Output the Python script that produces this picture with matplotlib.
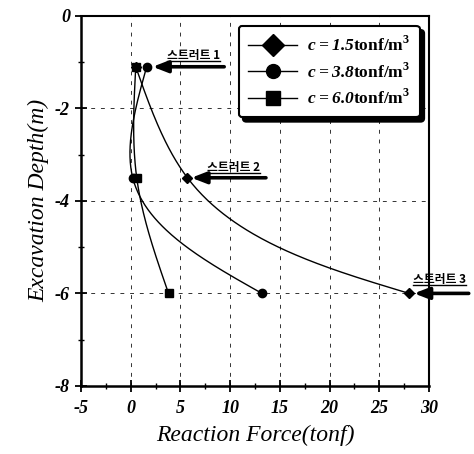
import numpy as np
import matplotlib.pyplot as plt
from matplotlib.lines import Line2D

# Strut depths and reaction forces per cohesion
depth = [-1.1, -3.5, -6.0]
force_c15 = [0.5, 5.7, 28.0]
force_c38 = [1.6, 0.2, 13.2]
force_c60 = [0.5, 0.6, 3.8]
series_labels = ['1.5', '3.8', '6.0']
series_markers = ['D', 'o', 's']
strut_labels = ['스트러트 1', '스트러트 2', '스트러트 3']
x_ticks = [-5, 0, 5, 10, 15, 20, 25, 30]
y_ticks = [0, -2, -4, -6, -8]


def natural_spline(t, v, tt):
    # natural cubic spline of v(t), evaluated at tt
    n = len(t)
    h = np.diff(t)
    A = np.zeros((n, n))
    b = np.zeros(n)
    A[0, 0] = A[-1, -1] = 1
    for i in range(1, n - 1):
        A[i, i - 1] = h[i - 1]
        A[i, i] = 2 * (h[i - 1] + h[i])
        A[i, i + 1] = h[i]
        b[i] = 6 * ((v[i + 1] - v[i]) / h[i] - (v[i] - v[i - 1]) / h[i - 1])
    M = np.linalg.solve(A, b)
    out = np.empty_like(tt)
    for k, x in enumerate(tt):
        i = min(np.searchsorted(t, x, side='right') - 1, n - 2)
        a, c = t[i + 1] - x, x - t[i]
        out[k] = (M[i] * a**3 + M[i + 1] * c**3) / (6 * h[i]) \
            + (v[i] / h[i] - M[i] * h[i] / 6) * a \
            + (v[i + 1] / h[i] - M[i + 1] * h[i] / 6) * c
    return out


def smooth(xs, ys, sx, sy, n=200):
    # parametric spline with chord-length parameter measured on screen
    px = np.asarray(xs, float) * sx
    py = np.asarray(ys, float) * sy
    t = np.concatenate([[0], np.cumsum(np.hypot(np.diff(px), np.diff(py)))])
    tt = np.linspace(0, t[-1], n)
    return natural_spline(t, px, tt) / sx, natural_spline(t, py, tt) / sy


serif = 'Liberation Serif'
plt.rcParams['mathtext.fontset'] = 'custom'
plt.rcParams['mathtext.bfit'] = 'Liberation Serif:italic:bold'
plt.rcParams['mathtext.rm'] = 'Liberation Serif:bold'

fig = plt.figure(figsize=(4.74, 4.54), dpi=100)
ax = fig.add_axes([0.171, 0.150, 0.734, 0.815])
ax.set_xlim(-5, 30)
ax.set_ylim(-8, 0)

# pixels per data unit
px_x = 348 / 35
px_y = 370 / 8

handles = []
for forces, lab, mk in zip([force_c15, force_c38, force_c60], series_labels, series_markers):
    cx, cy = smooth(forces, depth, px_x, px_y)
    ax.plot(cx, cy, color='black', lw=1.0, zorder=3)
    ax.plot(forces, depth, ls='none', marker=mk, ms=5 if mk == 'D' else 6,
            color='black', zorder=4)
    handles.append(Line2D([], [], color='black', lw=1.0, marker=mk,
                          ms=11 if mk == 'D' else 10,
                          label=r'$\mathbfit{c=' + lab + r'}$' + r'tonf/m$^{3}$'))

# arrows pointing at each strut
arrow_tips = [(2.2, -1.1), (6.1, -3.5), (28.5, -6.0)]
arrow_tails = [(9.4, -1.1), (13.6, -3.5), (34.0, -6.0)]
text_pos = [(3.65, -1.0), (7.7, -3.42), (28.4, -5.84)]
for tip, tail in zip(arrow_tips, arrow_tails):
    ax.annotate('', xy=tip, xytext=tail, annotation_clip=False,
                arrowprops=dict(arrowstyle='-|>,head_length=0.9,head_width=0.35',
                                lw=2.6, color='black', shrinkA=0, shrinkB=0),
                zorder=5)

strut_texts = []
for (tx, ty), lab in zip(text_pos, strut_labels):
    t = ax.text(tx, ty, lab, ha='left', va='bottom', fontsize=8.5,
                fontweight='bold', family=['Noto Sans CJK KR', 'DejaVu Sans'],
                clip_on=False, zorder=5)
    strut_texts.append(t)

ax.set_xticks(x_ticks)
ax.set_yticks(y_ticks)
ax.set_xticks(np.arange(-5, 30.1, 2.5), minor=True)
ax.set_yticks(np.arange(-8, 0.1, 1), minor=True)
ax.set_xticklabels([str(v) for v in x_ticks], family=serif, style='italic',
                   fontweight='bold', fontsize=13)
ax.set_yticklabels([str(v) for v in y_ticks], family=serif, style='italic',
                   fontweight='bold', fontsize=13)
ax.tick_params(which='major', direction='inout', length=8, width=1.3)
ax.tick_params(which='minor', direction='inout', length=5, width=1.0)
ax.tick_params(axis='x', pad=6)
ax.tick_params(axis='y', pad=4)

ax.grid(True, which='major', color='#333333', ls=(0, (4, 6)), lw=0.7)
for side in ['left', 'bottom']:
    ax.spines[side].set_linewidth(1.8)
for side in ['top', 'right']:
    ax.spines[side].set_linewidth(1.5)

ax.set_xlabel('Reaction Force(tonf)', family=serif, style='italic', fontsize=17,
              labelpad=6)
ax.set_ylabel('Excavation Depth(m)', family=serif, style='italic', fontsize=17,
              labelpad=4)

leg = ax.legend(handles=handles, loc='upper right', bbox_to_anchor=(0.974, 0.973),
                prop={'family': serif, 'weight': 'bold', 'size': 12.5},
                handlelength=2.8, handletextpad=0.6, labelspacing=0.42,
                borderpad=0.55, borderaxespad=0,
                fancybox=True, framealpha=1, edgecolor='black',
                shadow={'color': 'black', 'alpha': 1, 'ox': 3, 'oy': -3})
leg.get_frame().set_linewidth(1.5)
leg.set_zorder(6)

# underline the strut labels
fig.canvas.draw()
r = fig.canvas.get_renderer()
for t in strut_texts:
    bb = t.get_window_extent(r)
    x0, x1 = bb.x0 / fig.bbox.width, bb.x1 / fig.bbox.width
    y0 = (bb.y0 + 1) / fig.bbox.height
    fig.add_artist(Line2D([x0, x1], [y0, y0], color='black', lw=1.0))

fig.savefig('out.png', dpi=100)
